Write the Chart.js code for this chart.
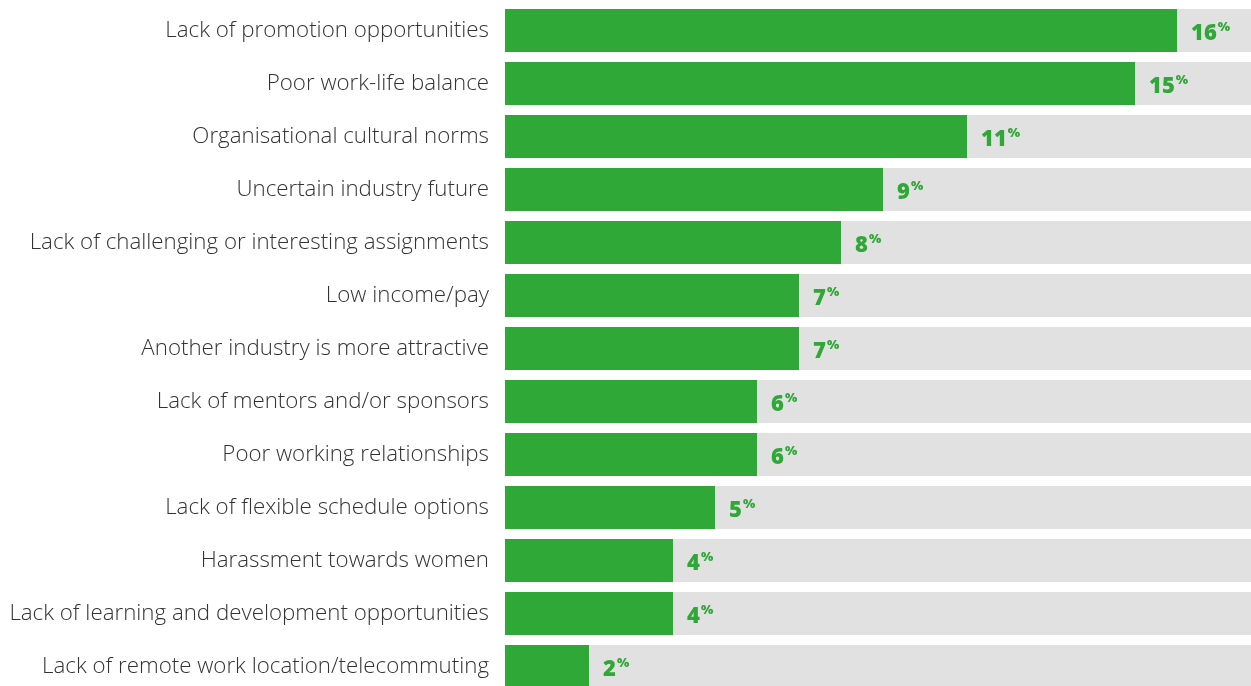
<!DOCTYPE html>
<html>
<head>
<meta charset="utf-8">
<script src="https://cdn.jsdelivr.net/npm/chart.js@4/dist/chart.umd.min.js"></script>
<style>
    html, body { margin: 0; padding: 0; background: #fff; overflow: hidden; }
    #wrap { position: relative; width: 1251px; height: 686px; overflow: hidden; }
    #myChart { position: absolute; left: 0; top: 0; }
</style>
</head>
<body>
<div id="wrap">
    <canvas id="myChart" width="1251" height="693"></canvas>
</div>
<script>
const categories = [
    'Lack of promotion opportunities',
    'Poor work-life balance',
    'Organisational cultural norms',
    'Uncertain industry future',
    'Lack of challenging or interesting assignments',
    'Low income/pay',
    'Another industry is more attractive',
    'Lack of mentors and/or sponsors',
    'Poor working relationships',
    'Lack of flexible schedule options',
    'Harassment towards women',
    'Lack of learning and development opportunities',
    'Lack of remote work location/telecommuting'
];
const percentages = [16, 15, 11, 9, 8, 7, 7, 6, 6, 5, 4, 4, 2];
const axisMax = 17.76;

const GREEN = '#2fa837';

// draws "16%" style labels with a small raised percent sign
const valueLabels = {
    id: 'valueLabels',
    afterDatasetsDraw(chart) {
        const ctx = chart.ctx;
        const meta = chart.getDatasetMeta(1);
        ctx.save();
        ctx.fillStyle = GREEN;
        ctx.textBaseline = 'alphabetic';
        ctx.textAlign = 'left';
        meta.data.forEach((bar, i) => {
            const x = bar.x + 14;
            const y = bar.y + 9;
            ctx.font = '800 22px "Open Sans"';
            const txt = String(percentages[i]);
            ctx.fillText(txt, x, y);
            const w = ctx.measureText(txt).width;
            ctx.font = '800 13px "Open Sans"';
            ctx.fillText('%', x + w + 1, y - 9);
        });
        ctx.restore();
    }
};

const ctx = document.getElementById('myChart').getContext('2d');
new Chart(ctx, {
    type: 'bar',
    data: {
        labels: categories,
        datasets: [
            {
                label: 'track',
                data: percentages.map(() => axisMax),
                backgroundColor: '#e1e1e1',
                grouped: false,
                order: 2,
                barPercentage: 0.81,
                categoryPercentage: 1
            },
            {
                label: 'Share',
                data: percentages,
                backgroundColor: GREEN,
                grouped: false,
                order: 1,
                barPercentage: 0.81,
                categoryPercentage: 1
            }
        ]
    },
    options: {
        indexAxis: 'y',
        responsive: false,
        animation: false,
        layout: { padding: { top: 4, right: 0, bottom: 0, left: 0 } },
        plugins: {
            legend: { display: false },
            tooltip: { enabled: false }
        },
        scales: {
            x: {
                display: false,
                min: 0,
                max: axisMax
            },
            y: {
                grid: { display: false, drawTicks: false },
                border: { display: false },
                ticks: {
                    padding: 16,
                    color: '#333',
                    font: { family: '"Open Sans"', size: 22.3, weight: 300 }
                },
                afterFit(scale) {
                    scale.width = 505;
                    scale.paddingTop = 0;
                    scale.paddingBottom = 0;
                }
            }
        }
    },
    plugins: [valueLabels]
});
</script>
</body>
</html>
